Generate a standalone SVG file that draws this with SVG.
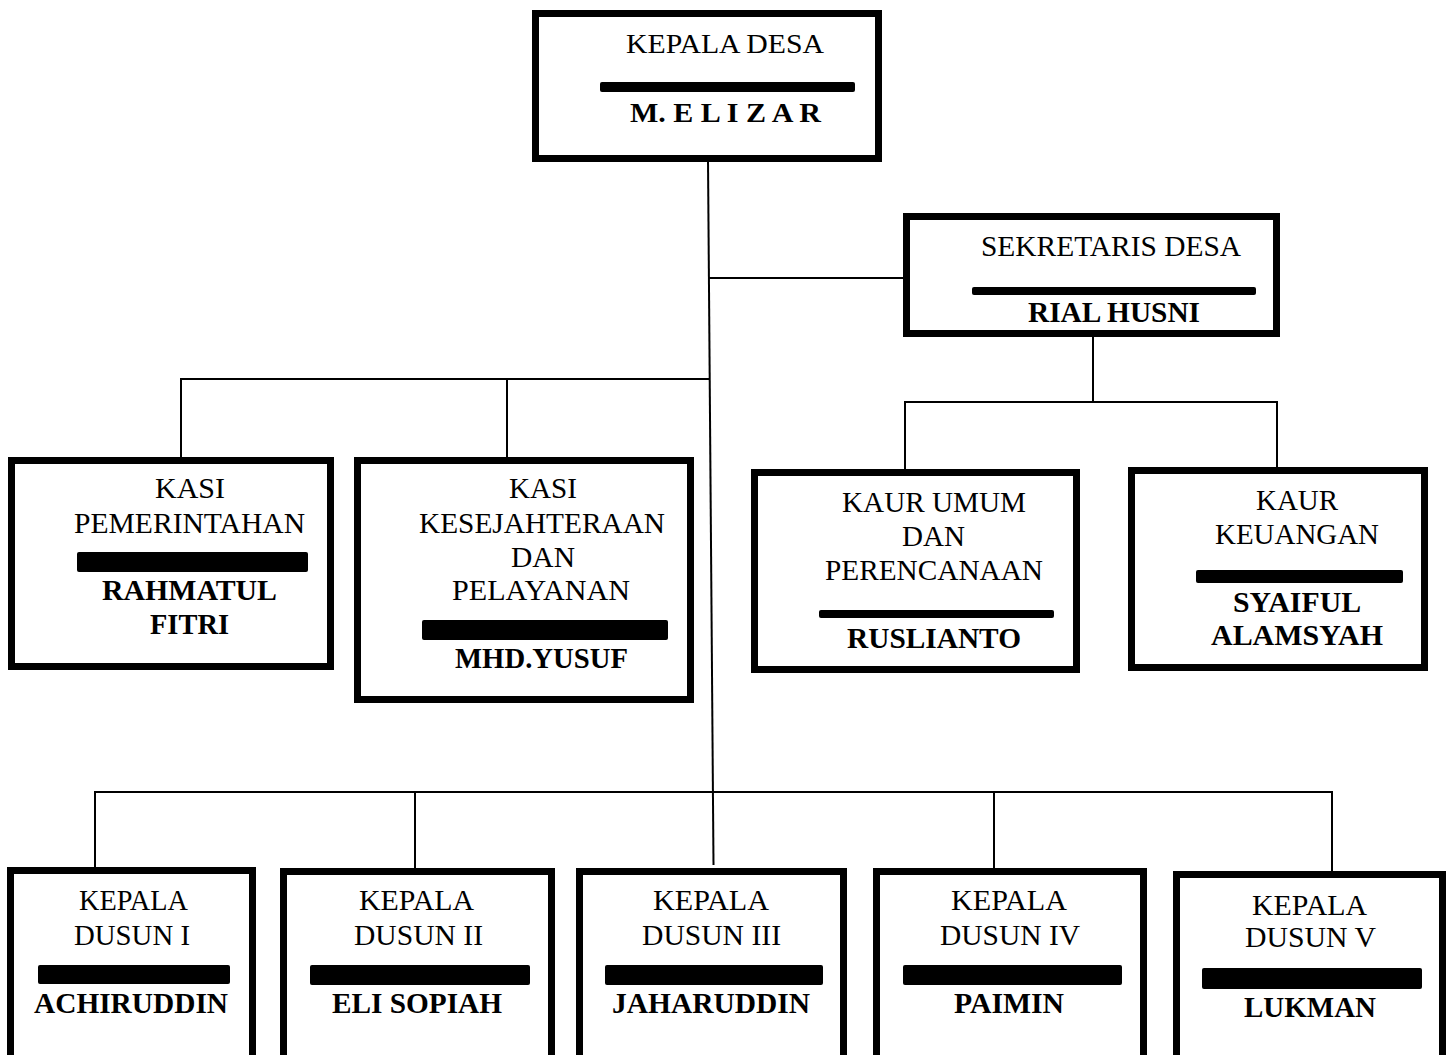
<svg xmlns="http://www.w3.org/2000/svg" width="1447" height="1055" viewBox="0 0 1447 1055">
<style>
.box{fill:#fff;stroke:#000;stroke-width:7}
.bar{fill:#000}
.t{font-family:"Liberation Serif","Times New Roman",serif;font-size:29px;fill:#000;text-anchor:middle}
.b{font-weight:bold}
.c{stroke:#000;stroke-width:2;fill:none}
</style>
<rect width="1447" height="1055" fill="#fff"/>
<g id="connectors">
<line class="c" x1="708" y1="160" x2="713.5" y2="865"/>
<line class="c" x1="709" y1="278" x2="904" y2="278"/>
<line class="c" x1="181" y1="379" x2="710" y2="379"/>
<line class="c" x1="181" y1="378" x2="181" y2="458"/>
<line class="c" x1="507" y1="379" x2="507" y2="458"/>
<line class="c" x1="1093" y1="336" x2="1093" y2="402"/>
<line class="c" x1="905" y1="402" x2="1277" y2="402"/>
<line class="c" x1="905" y1="401" x2="905" y2="470"/>
<line class="c" x1="1277" y1="401" x2="1277" y2="468"/>
<line class="c" x1="95" y1="792" x2="1332" y2="792"/>
<line class="c" x1="95" y1="791" x2="95" y2="869"/>
<line class="c" x1="415" y1="792" x2="415" y2="869"/>
<line class="c" x1="994" y1="792" x2="994" y2="869"/>
<line class="c" x1="1332" y1="791" x2="1332" y2="872"/>
</g>
<g id="kepala-desa">
<rect class="box" x="535.5" y="13.5" width="343" height="145"/>
<text class="t" x="725" y="53" textLength="198" lengthAdjust="spacingAndGlyphs" style="font-size:27px">KEPALA DESA</text>
<rect class="bar" x="600" y="82" width="255" height="10" rx="2"/>
<text class="t b" x="725.5" y="122" textLength="191" lengthAdjust="spacingAndGlyphs" style="font-size:27px">M. E L I Z A R</text>
</g>
<g id="sekretaris-desa">
<rect class="box" x="906.5" y="216.5" width="370" height="117"/>
<text class="t" x="1111" y="256" textLength="260" lengthAdjust="spacingAndGlyphs">SEKRETARIS DESA</text>
<rect class="bar" x="972" y="287" width="284" height="8" rx="2"/>
<text class="t b" x="1114" y="322" textLength="172" lengthAdjust="spacingAndGlyphs">RIAL HUSNI</text>
</g>
<g id="kasi-pemerintahan">
<rect class="box" x="11.5" y="460.5" width="319" height="206"/>
<text class="t" x="190" y="498" textLength="70" lengthAdjust="spacingAndGlyphs">KASI</text>
<text class="t" x="189.5" y="533" textLength="231" lengthAdjust="spacingAndGlyphs">PEMERINTAHAN</text>
<rect class="bar" x="77" y="552" width="231" height="20" rx="2"/>
<text class="t b" x="189.5" y="600" textLength="175" lengthAdjust="spacingAndGlyphs">RAHMATUL</text>
<text class="t b" x="189.5" y="634" textLength="79" lengthAdjust="spacingAndGlyphs">FITRI</text>
</g>
<g id="kasi-kesejahteraan">
<rect class="box" x="357.5" y="460.5" width="333" height="239"/>
<text class="t" x="543" y="498" textLength="68" lengthAdjust="spacingAndGlyphs">KASI</text>
<text class="t" x="542" y="533" textLength="246" lengthAdjust="spacingAndGlyphs">KESEJAHTERAAN</text>
<text class="t" x="543" y="567" textLength="64" lengthAdjust="spacingAndGlyphs">DAN</text>
<text class="t" x="541" y="600" textLength="178" lengthAdjust="spacingAndGlyphs">PELAYANAN</text>
<rect class="bar" x="422" y="620" width="246" height="20" rx="2"/>
<text class="t b" x="541.5" y="668" textLength="173" lengthAdjust="spacingAndGlyphs">MHD.YUSUF</text>
</g>
<g id="kaur-umum">
<rect class="box" x="754.5" y="472.5" width="322" height="197"/>
<text class="t" x="934" y="512" textLength="184" lengthAdjust="spacingAndGlyphs">KAUR UMUM</text>
<text class="t" x="933.5" y="546" textLength="63" lengthAdjust="spacingAndGlyphs">DAN</text>
<text class="t" x="934" y="580" textLength="218" lengthAdjust="spacingAndGlyphs">PERENCANAAN</text>
<rect class="bar" x="819" y="610" width="235" height="8" rx="2"/>
<text class="t b" x="934" y="648" textLength="174" lengthAdjust="spacingAndGlyphs">RUSLIANTO</text>
</g>
<g id="kaur-keuangan">
<rect class="box" x="1131.5" y="470.5" width="293" height="197"/>
<text class="t" x="1297" y="510" textLength="82" lengthAdjust="spacingAndGlyphs">KAUR</text>
<text class="t" x="1297" y="544" textLength="164" lengthAdjust="spacingAndGlyphs">KEUANGAN</text>
<rect class="bar" x="1196" y="570" width="207" height="13" rx="2"/>
<text class="t b" x="1297" y="612" textLength="128" lengthAdjust="spacingAndGlyphs">SYAIFUL</text>
<text class="t b" x="1297" y="645" textLength="172" lengthAdjust="spacingAndGlyphs">ALAMSYAH</text>
</g>
<g id="dusun-1">
<rect class="box" x="10.5" y="870.5" width="242" height="200"/>
<text class="t" x="133.5" y="910" textLength="109" lengthAdjust="spacingAndGlyphs">KEPALA</text>
<text class="t" x="132" y="945" textLength="116" lengthAdjust="spacingAndGlyphs">DUSUN I</text>
<rect class="bar" x="38" y="965" width="192" height="19" rx="2"/>
<text class="t b" x="131" y="1013" textLength="194" lengthAdjust="spacingAndGlyphs">ACHIRUDDIN</text>
</g>
<g id="dusun-2">
<rect class="box" x="283.5" y="871.5" width="268" height="200"/>
<text class="t" x="416.5" y="910" textLength="115" lengthAdjust="spacingAndGlyphs">KEPALA</text>
<text class="t" x="418.5" y="945" textLength="129" lengthAdjust="spacingAndGlyphs">DUSUN II</text>
<rect class="bar" x="310" y="965" width="220" height="20" rx="2"/>
<text class="t b" x="417" y="1013" textLength="170" lengthAdjust="spacingAndGlyphs">ELI SOPIAH</text>
</g>
<g id="dusun-3">
<rect class="box" x="579.5" y="871.5" width="264" height="200"/>
<text class="t" x="711" y="910" textLength="116" lengthAdjust="spacingAndGlyphs">KEPALA</text>
<text class="t" x="711.5" y="945" textLength="139" lengthAdjust="spacingAndGlyphs">DUSUN III</text>
<rect class="bar" x="605" y="965" width="218" height="20" rx="2"/>
<text class="t b" x="711" y="1013" textLength="198" lengthAdjust="spacingAndGlyphs">JAHARUDDIN</text>
</g>
<g id="dusun-4">
<rect class="box" x="876.5" y="871.5" width="267" height="200"/>
<text class="t" x="1009" y="910" textLength="116" lengthAdjust="spacingAndGlyphs">KEPALA</text>
<text class="t" x="1010" y="945" textLength="140" lengthAdjust="spacingAndGlyphs">DUSUN IV</text>
<rect class="bar" x="903" y="965" width="219" height="20" rx="2"/>
<text class="t b" x="1009" y="1013" textLength="110" lengthAdjust="spacingAndGlyphs">PAIMIN</text>
</g>
<g id="dusun-5">
<rect class="box" x="1176.5" y="874.5" width="266" height="200"/>
<text class="t" x="1309.5" y="915" textLength="115" lengthAdjust="spacingAndGlyphs">KEPALA</text>
<text class="t" x="1310.5" y="947" textLength="131" lengthAdjust="spacingAndGlyphs">DUSUN V</text>
<rect class="bar" x="1202" y="968" width="220" height="21" rx="2"/>
<text class="t b" x="1310" y="1017" textLength="132" lengthAdjust="spacingAndGlyphs">LUKMAN</text>
</g>
</svg>
